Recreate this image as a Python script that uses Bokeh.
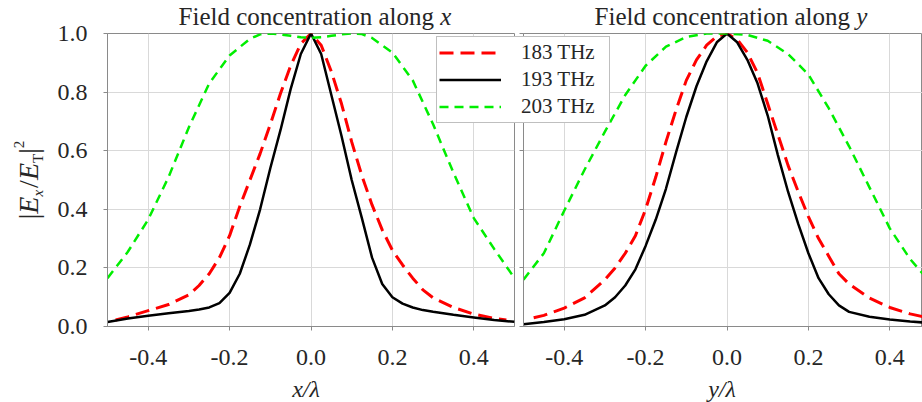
import math
from bokeh.plotting import figure
from bokeh.layouts import row
from bokeh.models import (Range1d, FixedTicker, NumeralTickFormatter, CustomJSTickFormatter,
                          Label, Legend, LegendItem)
from bokeh.embed import file_html
from bokeh.resources import INLINE

# ---------------- data ----------------
# Panel 1: field concentration along x
X_183_ALONG_X = [-0.48, -0.45, -0.4, -0.35, -0.3, -0.275, -0.25, -0.225, -0.2, -0.175, -0.15, -0.125,
                 -0.1, -0.075, -0.05, -0.025, 0.0, 0.025, 0.05, 0.075, 0.1, 0.125, 0.15, 0.175, 0.2,
                 0.225, 0.25, 0.275, 0.3, 0.35, 0.4, 0.45, 0.48]
E_183_ALONG_X = [0.022, 0.033, 0.054, 0.075, 0.108, 0.14, 0.18, 0.235, 0.31, 0.41, 0.50, 0.59,
                 0.69, 0.795, 0.89, 0.965, 1.0, 0.96, 0.87, 0.76, 0.63, 0.515, 0.415, 0.33, 0.26,
                 0.21, 0.165, 0.125, 0.098, 0.065, 0.042, 0.028, 0.022]

X_193_ALONG_X = [-0.5, -0.45, -0.4, -0.35, -0.3, -0.275, -0.25, -0.225, -0.2, -0.175, -0.15, -0.125,
                 -0.1, -0.075, -0.05, -0.025, 0.0, 0.025, 0.05, 0.075, 0.1, 0.125, 0.15, 0.175, 0.2,
                 0.225, 0.25, 0.275, 0.3, 0.35, 0.4, 0.45, 0.5]
E_193_ALONG_X = [0.015, 0.027, 0.037, 0.045, 0.053, 0.058, 0.065, 0.08, 0.115, 0.18, 0.28, 0.40,
                 0.54, 0.67, 0.81, 0.93, 1.0, 0.93, 0.79, 0.65, 0.50, 0.37, 0.235, 0.145, 0.10,
                 0.078, 0.065, 0.056, 0.050, 0.040, 0.031, 0.022, 0.016]

X_203_ALONG_X = [-0.5, -0.45, -0.4, -0.35, -0.3, -0.25, -0.2, -0.15, -0.125, -0.1, -0.075, -0.05,
                 -0.025, 0.0, 0.025, 0.05, 0.075, 0.1, 0.125, 0.15, 0.2, 0.25, 0.3, 0.35, 0.4, 0.45, 0.5]
E_203_ALONG_X = [0.165, 0.255, 0.365, 0.51, 0.68, 0.83, 0.925, 0.982, 0.997, 1.0, 0.997, 0.992,
                 0.987, 0.985, 0.987, 0.992, 0.997, 1.0, 0.998, 0.985, 0.935, 0.84, 0.69, 0.525,
                 0.37, 0.265, 0.165]

# Panel 2: field concentration along y
X_183_ALONG_Y = [-0.475, -0.45, -0.4, -0.35, -0.3, -0.275, -0.25, -0.225, -0.2, -0.175, -0.15, -0.125,
                 -0.1, -0.075, -0.05, -0.025, 0.0, 0.025, 0.05, 0.075, 0.1, 0.125, 0.15, 0.175, 0.2,
                 0.225, 0.25, 0.275, 0.3, 0.35, 0.4, 0.45, 0.5]
E_183_ALONG_Y = [0.03, 0.038, 0.063, 0.098, 0.16, 0.20, 0.25, 0.31, 0.40, 0.51, 0.63, 0.74,
                 0.84, 0.91, 0.96, 0.99, 1.0, 0.98, 0.935, 0.865, 0.76, 0.655, 0.55, 0.46, 0.375,
                 0.30, 0.24, 0.18, 0.145, 0.097, 0.065, 0.043, 0.028]

X_193_ALONG_Y = [-0.5, -0.45, -0.4, -0.35, -0.3, -0.275, -0.25, -0.225, -0.2, -0.175, -0.15, -0.125,
                 -0.1, -0.075, -0.05, -0.025, 0.0, 0.025, 0.05, 0.075, 0.1, 0.125, 0.15, 0.175, 0.2,
                 0.225, 0.25, 0.275, 0.3, 0.35, 0.4, 0.45, 0.5]
E_193_ALONG_Y = [0.008, 0.015, 0.025, 0.04, 0.072, 0.10, 0.14, 0.195, 0.275, 0.365, 0.47, 0.595,
                 0.715, 0.82, 0.905, 0.97, 1.0, 0.97, 0.91, 0.83, 0.72, 0.585, 0.46, 0.35, 0.25,
                 0.165, 0.11, 0.072, 0.05, 0.033, 0.024, 0.017, 0.012]

X_203_ALONG_Y = [-0.5, -0.45, -0.4, -0.35, -0.3, -0.25, -0.2, -0.15, -0.1, -0.05, 0.0,
                 0.05, 0.1, 0.15, 0.2, 0.25, 0.3, 0.35, 0.4, 0.45, 0.5]
E_203_ALONG_Y = [0.16, 0.25, 0.395, 0.535, 0.665, 0.79, 0.89, 0.955, 0.988, 1.0, 1.0,
                 0.995, 0.975, 0.93, 0.86, 0.745, 0.615, 0.475, 0.335, 0.23, 0.15]

SERIES_LABELS = ["183 THz", "193 THz", "203 THz"]
X_TICKS = [-0.4, -0.2, 0.0, 0.2, 0.4]
Y_TICKS = [0.0, 0.2, 0.4, 0.6, 0.8, 1.0]
TITLES = ["Field concentration along", "Field concentration along"]
TITLE_VARS = ["x", "y"]
X_LABELS = ["x/\u03bb", "y/\u03bb"]

# ---------------- layout / styling ----------------
W, H = 922, 402
TOP, FRAME_H = 33, 293
L1_LEFT, FRAME_W = 107, 407          # left panel frame
P2_START, P2_BORDER = 430, 93         # right figure canvas start and its left border
SERIF = "Liberation Serif"
TXT = "#262626"
AXC = "#8a8a8a"
GRID = "#d9d9d9"
RED, BLACK, GREEN = "#ff0000", "#000000", "#00ee00"
RED_STYLE = dict(line_color=RED, line_width=3, line_dash="14 7")
BLACK_STYLE = dict(line_color=BLACK, line_width=2.5)
GREEN_STYLE = dict(line_color=GREEN, line_width=2.5, line_dash="9 6")
BASELINE_FIX = 0.33   # label anchor sits this fraction of the font size above the glyph baseline


def style(p, show_ylabels):
    p.outline_line_color = AXC
    p.outline_line_width = 1
    p.xgrid.ticker = FixedTicker(ticks=X_TICKS)
    p.ygrid.ticker = FixedTicker(ticks=Y_TICKS)
    p.xgrid.grid_line_color = GRID
    p.ygrid.grid_line_color = GRID
    for ax in (p.xaxis[0], p.yaxis[0]):
        ax.axis_line_color = AXC
        ax.major_tick_line_color = AXC
        ax.major_tick_out = 4
        ax.major_tick_in = 0
        ax.minor_tick_line_color = None
        ax.major_label_text_font = SERIF
        ax.major_label_text_font_size = "24px"
        ax.major_label_text_color = TXT
    p.xaxis[0].ticker = FixedTicker(ticks=X_TICKS)
    p.xaxis[0].formatter = NumeralTickFormatter(format="0.0")
    p.xaxis[0].major_label_standoff = 19
    p.yaxis[0].ticker = FixedTicker(ticks=Y_TICKS)
    if show_ylabels:
        p.yaxis[0].formatter = NumeralTickFormatter(format="0.0")
        p.yaxis[0].major_label_standoff = 16
    else:
        p.yaxis[0].formatter = CustomJSTickFormatter(code="return ''")
        p.yaxis[0].major_label_standoff = 0


bottom = H - TOP - FRAME_H

# ---------------- left panel ----------------
p1_w = L1_LEFT + FRAME_W + 4
p1 = figure(width=p1_w, height=H, x_range=Range1d(-0.5, 0.5), y_range=Range1d(0, 1),
            output_backend="svg", toolbar_location=None,
            min_border_left=L1_LEFT, min_border_right=4, min_border_top=TOP, min_border_bottom=bottom)
style(p1, True)
p1.line(X_183_ALONG_X, E_183_ALONG_X, **RED_STYLE)
p1.line(X_193_ALONG_X, E_193_ALONG_X, **BLACK_STYLE)
p1.line(X_203_ALONG_X, E_203_ALONG_X, **GREEN_STYLE)

# ---------------- right panel (cut by the window edge) ----------------
p2_w = W - P2_START
p2_frame_w = p2_w - P2_BORDER
p2 = figure(width=p2_w, height=H, x_range=Range1d(-0.5, -0.5 + p2_frame_w / FRAME_W), y_range=Range1d(0, 1),
            output_backend="svg", toolbar_location=None,
            min_border_left=P2_BORDER, min_border_right=0, min_border_top=TOP, min_border_bottom=bottom,
            border_fill_color=None, margin=(0, 0, 0, P2_START - p1_w))
style(p2, False)
p2.line(X_183_ALONG_Y, E_183_ALONG_Y, **RED_STYLE)
p2.line(X_193_ALONG_Y, E_193_ALONG_Y, **BLACK_STYLE)
p2.line(X_203_ALONG_Y, E_203_ALONG_Y, **GREEN_STYLE)

# ---------------- transparent overlay for texts that sit outside / across the panels ----------------
p3 = figure(width=W, height=H, x_range=Range1d(0, W), y_range=Range1d(H, 0),
            output_backend="svg", toolbar_location=None, x_axis_location=None, y_axis_location=None,
            min_border_left=0, min_border_right=0, min_border_top=0, min_border_bottom=0,
            border_fill_color=None, background_fill_color=None, outline_line_color=None,
            frame_align=False, margin=(0, 0, 0, -W))
p3.grid.visible = False
# legend proxies (hidden renderers carrying the line styles)
g1 = p3.line(X_183_ALONG_Y, E_183_ALONG_Y, visible=False, **RED_STYLE)
g2 = p3.line(X_193_ALONG_Y, E_193_ALONG_Y, visible=False, **BLACK_STYLE)
g3 = p3.line(X_203_ALONG_Y, E_203_ALONG_Y, visible=False, **GREEN_STYLE)

LEG_LEFT, LEG_TOP, PAD, ROW_H = 436, 38, 2, 27
leg_h = 2 * PAD + 3 * ROW_H
legend = Legend(items=[LegendItem(label=SERIES_LABELS[0], renderers=[g1]),
                       LegendItem(label=SERIES_LABELS[1], renderers=[g2]),
                       LegendItem(label=SERIES_LABELS[2], renderers=[g3])],
                location=(LEG_LEFT, H - LEG_TOP - leg_h), margin=0, padding=PAD, spacing=0,
                glyph_width=62, glyph_height=ROW_H, label_height=ROW_H, label_width=86,
                label_standoff=20,
                label_text_font=SERIF, label_text_font_size="21px", label_text_color=TXT,
                border_line_color="#808080", border_line_width=1,
                background_fill_color="white", background_fill_alpha=1.0)
p3.add_layout(legend)

# panel centres in page pixels
centers = [L1_LEFT + FRAME_W / 2, P2_START + P2_BORDER + FRAME_W / 2]

# titles: plain part + italic variable
TITLE_SIZE = 25
TITLE_BASE = 24
title_w_plain = 10.471 * TITLE_SIZE     # advance of "Field concentration along " (Times metrics)
title_w_total = title_w_plain + 0.444 * TITLE_SIZE
ty = TITLE_BASE - BASELINE_FIX * TITLE_SIZE
for c, t, v in zip(centers, TITLES, TITLE_VARS):
    x0 = c + 4 - title_w_total / 2
    p3.add_layout(Label(x=x0, y=ty, text=t, text_font=SERIF, text_font_size=f"{TITLE_SIZE}px",
                        text_color=TXT, text_align="left", text_baseline="alphabetic"))
    p3.add_layout(Label(x=x0 + title_w_plain, y=ty, text=v, text_font=SERIF,
                        text_font_size=f"{TITLE_SIZE}px", text_font_style="italic", text_color=TXT,
                        text_align="left", text_baseline="alphabetic"))

# x axis labels (italic)
XLAB_SIZE, XLAB_BASE = 24, 396
for c, t in zip(centers, X_LABELS):
    p3.add_layout(Label(x=c - 5, y=XLAB_BASE - BASELINE_FIX * XLAB_SIZE, text=t, text_font=SERIF,
                        text_font_size=f"{XLAB_SIZE}px", text_font_style="italic", text_color=TXT,
                        text_align="center", text_baseline="alphabetic"))

# y axis label |E_x /E_T|^2 built from rotated pieces
pieces = [  # text, style, size, advance, baseline shift (px, + = below baseline)
    ("|", "normal", 28, 5.6, 0),
    ("E", "italic", 28, 17.1, 0),
    ("x", "italic", 15, 6.7, 5),
    ("/", "normal", 28, 7.8, 0),
    ("E", "italic", 28, 17.1, 0),
    ("T", "normal", 15, 9.2, 5),
    ("|", "normal", 28, 5.6, 0),
    ("2", "normal", 15, 7.5, -14),
]
gaps = [0, 0, 0, 2, 0, 0, 0, 0]
total = sum(a for _, _, _, a, _ in pieces) + sum(gaps)
ymid = TOP + FRAME_H / 2
BASE_X = 37
pos = -total / 2
for (txt, st, sz, adv, shift), g in zip(pieces, gaps):
    pos += g
    p3.add_layout(Label(x=BASE_X + shift - BASELINE_FIX * sz, y=ymid, y_offset=pos, text=txt,
                        angle=math.pi / 2, text_font=SERIF, text_font_size=f"{sz}px",
                        text_font_style=st, text_color=TXT, text_align="left",
                        text_baseline="alphabetic"))
    pos += adv

layout = row(p1, p2, p3)
open("out.html", "w").write(file_html(layout, INLINE))
